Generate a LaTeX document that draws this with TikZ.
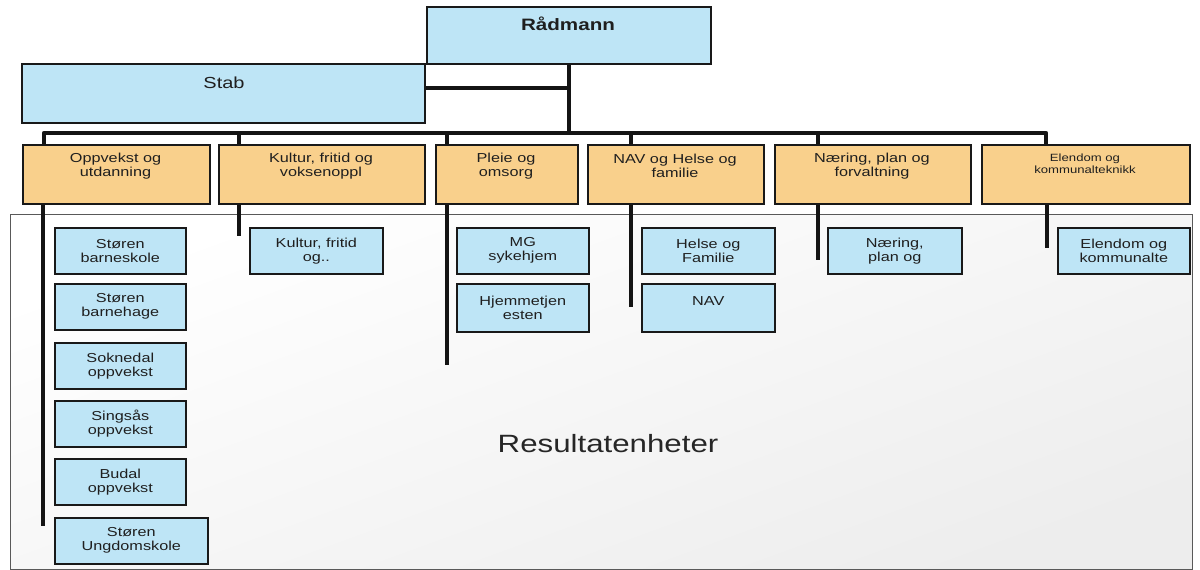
\documentclass[tikz,border=0pt]{standalone}
\usepackage{fontspec}
\setmainfont{Liberation Sans}[FakeStretch=1.25]
\usetikzlibrary{calc}
\begin{document}
\begin{tikzpicture}[x=1pt,y=-1pt,
  bluebox/.style={draw=black!90, line width=1.6pt, fill=boxblue, rectangle, inner sep=0pt, anchor=north west},
  orbox/.style={draw=black!90, line width=1.6pt, fill=boxorange, rectangle, inner sep=0pt, anchor=north west},
  sub/.style={bluebox, minimum height=46pt, align=center, text=black!88, font=\fontsize{13}{14}\selectfont},
  lbl/.style={align=center, text=black!88, inner sep=0pt, font=\fontsize{13}{14}\selectfont},
  conn/.style={line width=4.5pt, black!92},
]
\definecolor{boxblue}{HTML}{BEE5F6}
\definecolor{boxorange}{HTML}{F9D08C}
\useasboundingbox (0,0) rectangle (1200,570);
\fill[white] (0,0) rectangle (1200,570);

% Resultatenheter frame
\node[draw=black!65, line width=1.2pt, shading=axis, top color=white, bottom color=black!7, shading angle=20, rectangle, anchor=north west,
  minimum width=1182pt, minimum height=355pt, inner sep=0pt] (res) at (10,214) {};
\node[text=black!85, font=\fontsize{25}{28}\selectfont, anchor=base, inner sep=0pt] (restext) at (608,452) {Resultatenheter};

% top level
\node[bluebox, minimum width=403pt, minimum height=59pt] (stab) at (21,63) {};
\node[anchor=base, inner sep=0pt, text=black!88, font=\fontsize{16}{18}\selectfont] (stabt) at (224,88) {Stab};
\node[bluebox, minimum width=284pt, minimum height=57pt] (rad) at (426,6) {};
\node[anchor=base, inner sep=0pt, text=black!88, font=\bfseries\fontsize{16.5}{18}\selectfont] (radt) at (568,30) {Rådmann};

% department boxes
\node[orbox, minimum width=187pt, minimum height=59pt] (o1) at (22,144) {};
\node[orbox, minimum width=206pt, minimum height=59pt] (o2) at (218,144) {};
\node[orbox, minimum width=142pt, minimum height=59pt] (o3) at (435,144) {};
\node[orbox, minimum width=176pt, minimum height=59pt] (o4) at (587,144) {};
\node[orbox, minimum width=196pt, minimum height=59pt] (o5) at (774,144) {};
\node[orbox, minimum width=208pt, minimum height=59pt] (o6) at (981,144) {};
\node[lbl] (o1t) at (115.5,166) {Oppvekst og\\utdanning};
\node[lbl] (o2t) at (321,166) {Kultur, fritid og\\voksenoppl};
\node[lbl] (o3t) at (506,166) {Pleie og\\omsorg};
\node[lbl] (o4t) at (675,166) {NAV og Helse og\\familie};
\node[lbl] (o5t) at (872,166) {Næring, plan og\\forvaltning};
\node[lbl, font=\fontsize{10.5}{12}\selectfont] (o6t) at (1085,164) {Elendom og\\kommunalteknikk};

% units
\node[sub, minimum width=131pt] (s1) at (54,227) {Støren\\barneskole};
\node[sub, minimum width=131pt] (s2) at (54,283) {Støren\\barnehage};
\node[sub, minimum width=131pt] (s3) at (54,342) {Soknedal\\oppvekst};
\node[sub, minimum width=131pt] (s4) at (54,400) {Singsås\\oppvekst};
\node[sub, minimum width=131pt] (s5) at (54,458) {Budal\\oppvekst};
\node[sub, minimum width=153pt] (s6) at (54,517) {Støren\\Ungdomskole};
\node[sub, minimum width=133pt] (k1) at (249,227) {Kultur, fritid\\og..};
\node[sub, minimum width=132pt] (p1) at (456,227) {MG\\sykehjem};
\node[sub, minimum width=132pt, minimum height=48pt] (p2) at (456,283) {Hjemmetjen\\esten};
\node[sub, minimum width=133pt] (n1) at (641,227) {Helse og\\Familie};
\node[sub, minimum width=133pt, minimum height=48pt] (n2) at (641,283) {NAV\\\mbox{}};
\node[sub, minimum width=134pt] (f1) at (827,227) {Næring,\\plan og};
\node[sub, minimum width=132pt] (e1) at (1057,227) {Elendom og\\kommunalte};

% connector coordinates
\coordinate (d1) at (44,133);
\coordinate (d2) at (239,133);
\coordinate (d3) at (447,133);
\coordinate (d4) at (631,133);
\coordinate (d5) at (818,133);
\coordinate (d6) at (1046,133);
\coordinate (b1) at (43,526);
\coordinate (b2) at (239,236);
\coordinate (b3) at (447,365);
\coordinate (b4) at (631,307);
\coordinate (b5) at (818,260);
\coordinate (b6) at (1047,248);

% connectors
\draw[conn] (rad.south) -- (rad.south |- d1);
\draw[conn] ($(stab.north east)!0.41!(stab.south east)$) -- ++(142,0);
\draw[conn, line join=round] (o1.north -| d1) -- (d1) -- (d6) -- (o6.north -| d6);
\draw[conn] (d2) -- (o2.north -| d2);
\draw[conn] (d3) -- (o3.north -| d3);
\draw[conn] (d4) -- (o4.north -| d4);
\draw[conn] (d5) -- (o5.north -| d5);
\draw[conn] (o1.south -| b1) -- (b1);
\draw[conn] (o2.south -| b2) -- (b2);
\draw[conn] (o3.south -| b3) -- (b3);
\draw[conn] (o4.south -| b4) -- (b4);
\draw[conn] (o5.south -| b5) -- (b5);
\draw[conn] (o6.south -| b6) -- (b6);
\end{tikzpicture}
\end{document}
